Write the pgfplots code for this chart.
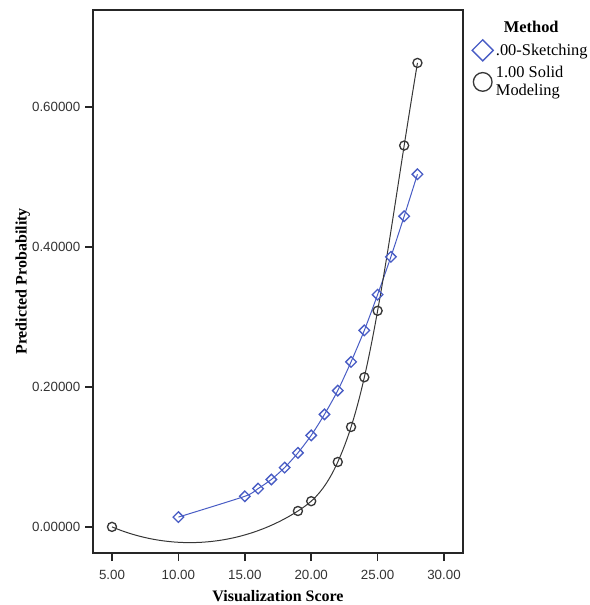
\documentclass[border=0pt]{standalone}
\usepackage{pgfplots}
\pgfplotsset{compat=1.18}
\usetikzlibrary{hobby}
\usepackage{fontspec}
\setmainfont{Liberation Serif}
\newfontfamily\tickfont{Liberation Sans}
\definecolor{skblue}{RGB}{72,92,196}
\definecolor{sdark}{RGB}{55,55,55}

\begin{document}
\begin{tikzpicture}
\begin{axis}[
  scale only axis,
  width=277.5pt, height=407.25pt,
  xmin=3.57, xmax=31.43,
  ymin=-0.037, ymax=0.7386,
  xtick={5,10,15,20,25,30},
  ytick={0,0.2,0.4,0.6},
  tick pos=left,
  tick align=outside,
  major tick length=6pt,
  axis line style={line width=1.1pt, black!85},
  every tick/.style={line width=1.1pt, black!85},
  /pgf/number format/assume math mode=true,
  ticklabel style={font=\tickfont\fontsize{10}{12}\selectfont, text=black!80},
  xticklabel style={yshift=-3.4pt, /pgf/number format/.cd, fixed, fixed zerofill, precision=2},
  yticklabel style={/pgf/number format/.cd, fixed, fixed zerofill, precision=5},
  xlabel={\textbf{Visualization Score}},
  ylabel={\textbf{Predicted Probability}},
  every axis x label/.style={at={(axis description cs:0.5,-0.079)}, anchor=center,
    font=\fontsize{12}{14}\selectfont},
  every axis y label/.style={at={(axis description cs:-0.19,0.5)}, anchor=center, rotate=90,
    font=\fontsize{12}{14}\selectfont},
  legend style={draw=none, fill=none, at={(axis description cs:1.024,0.985)}, anchor=north west,
    font=\fontsize{12.3}{13.5}\selectfont, cells={anchor=west, align=left},
    inner sep=0pt, row sep=2pt},
  legend image code/.code={\draw[#1] plot coordinates {(0.1cm,0cm)};},
]
\coordinate (O) at (rel axis cs:0,0);
\addlegendimage{empty legend}
\addlegendentry{\hspace{6pt}\textbf{Method}}

\addplot[skblue, line width=0.75pt, smooth, tension=0.4, mark=square, mark size=2.8pt,
  mark options={rotate=45, line width=1pt},
  legend image post style={mark size=5.6pt}]
  table {
x y
10 0.0143
15 0.0440
16 0.0550
17 0.0680
18 0.0850
19 0.1060
20 0.1310
21 0.1610
22 0.1950
23 0.2360
24 0.2810
25 0.3320
26 0.3860
27 0.4440
28 0.5040
};
\addlegendentry{.00-Sketching}

\addplot[sdark, line width=0.75pt, hobby, mark=o, mark size=3.4pt,
  mark options={line width=1pt},
  legend image post style={mark size=7pt}]
  table {
x y
5 0.0003
19 0.0230
20 0.0370
22 0.0930
23 0.1430
24 0.2140
25 0.3090
27 0.5450
28 0.6630
};
\addlegendentry{1.00 Solid\\Modeling}
\end{axis}
\pgfresetboundingbox
\path[use as bounding box] ([shift={(-69.75pt,-39pt)}]O) rectangle ([shift={(372pt,414.75pt)}]O);
\end{tikzpicture}
\end{document}
